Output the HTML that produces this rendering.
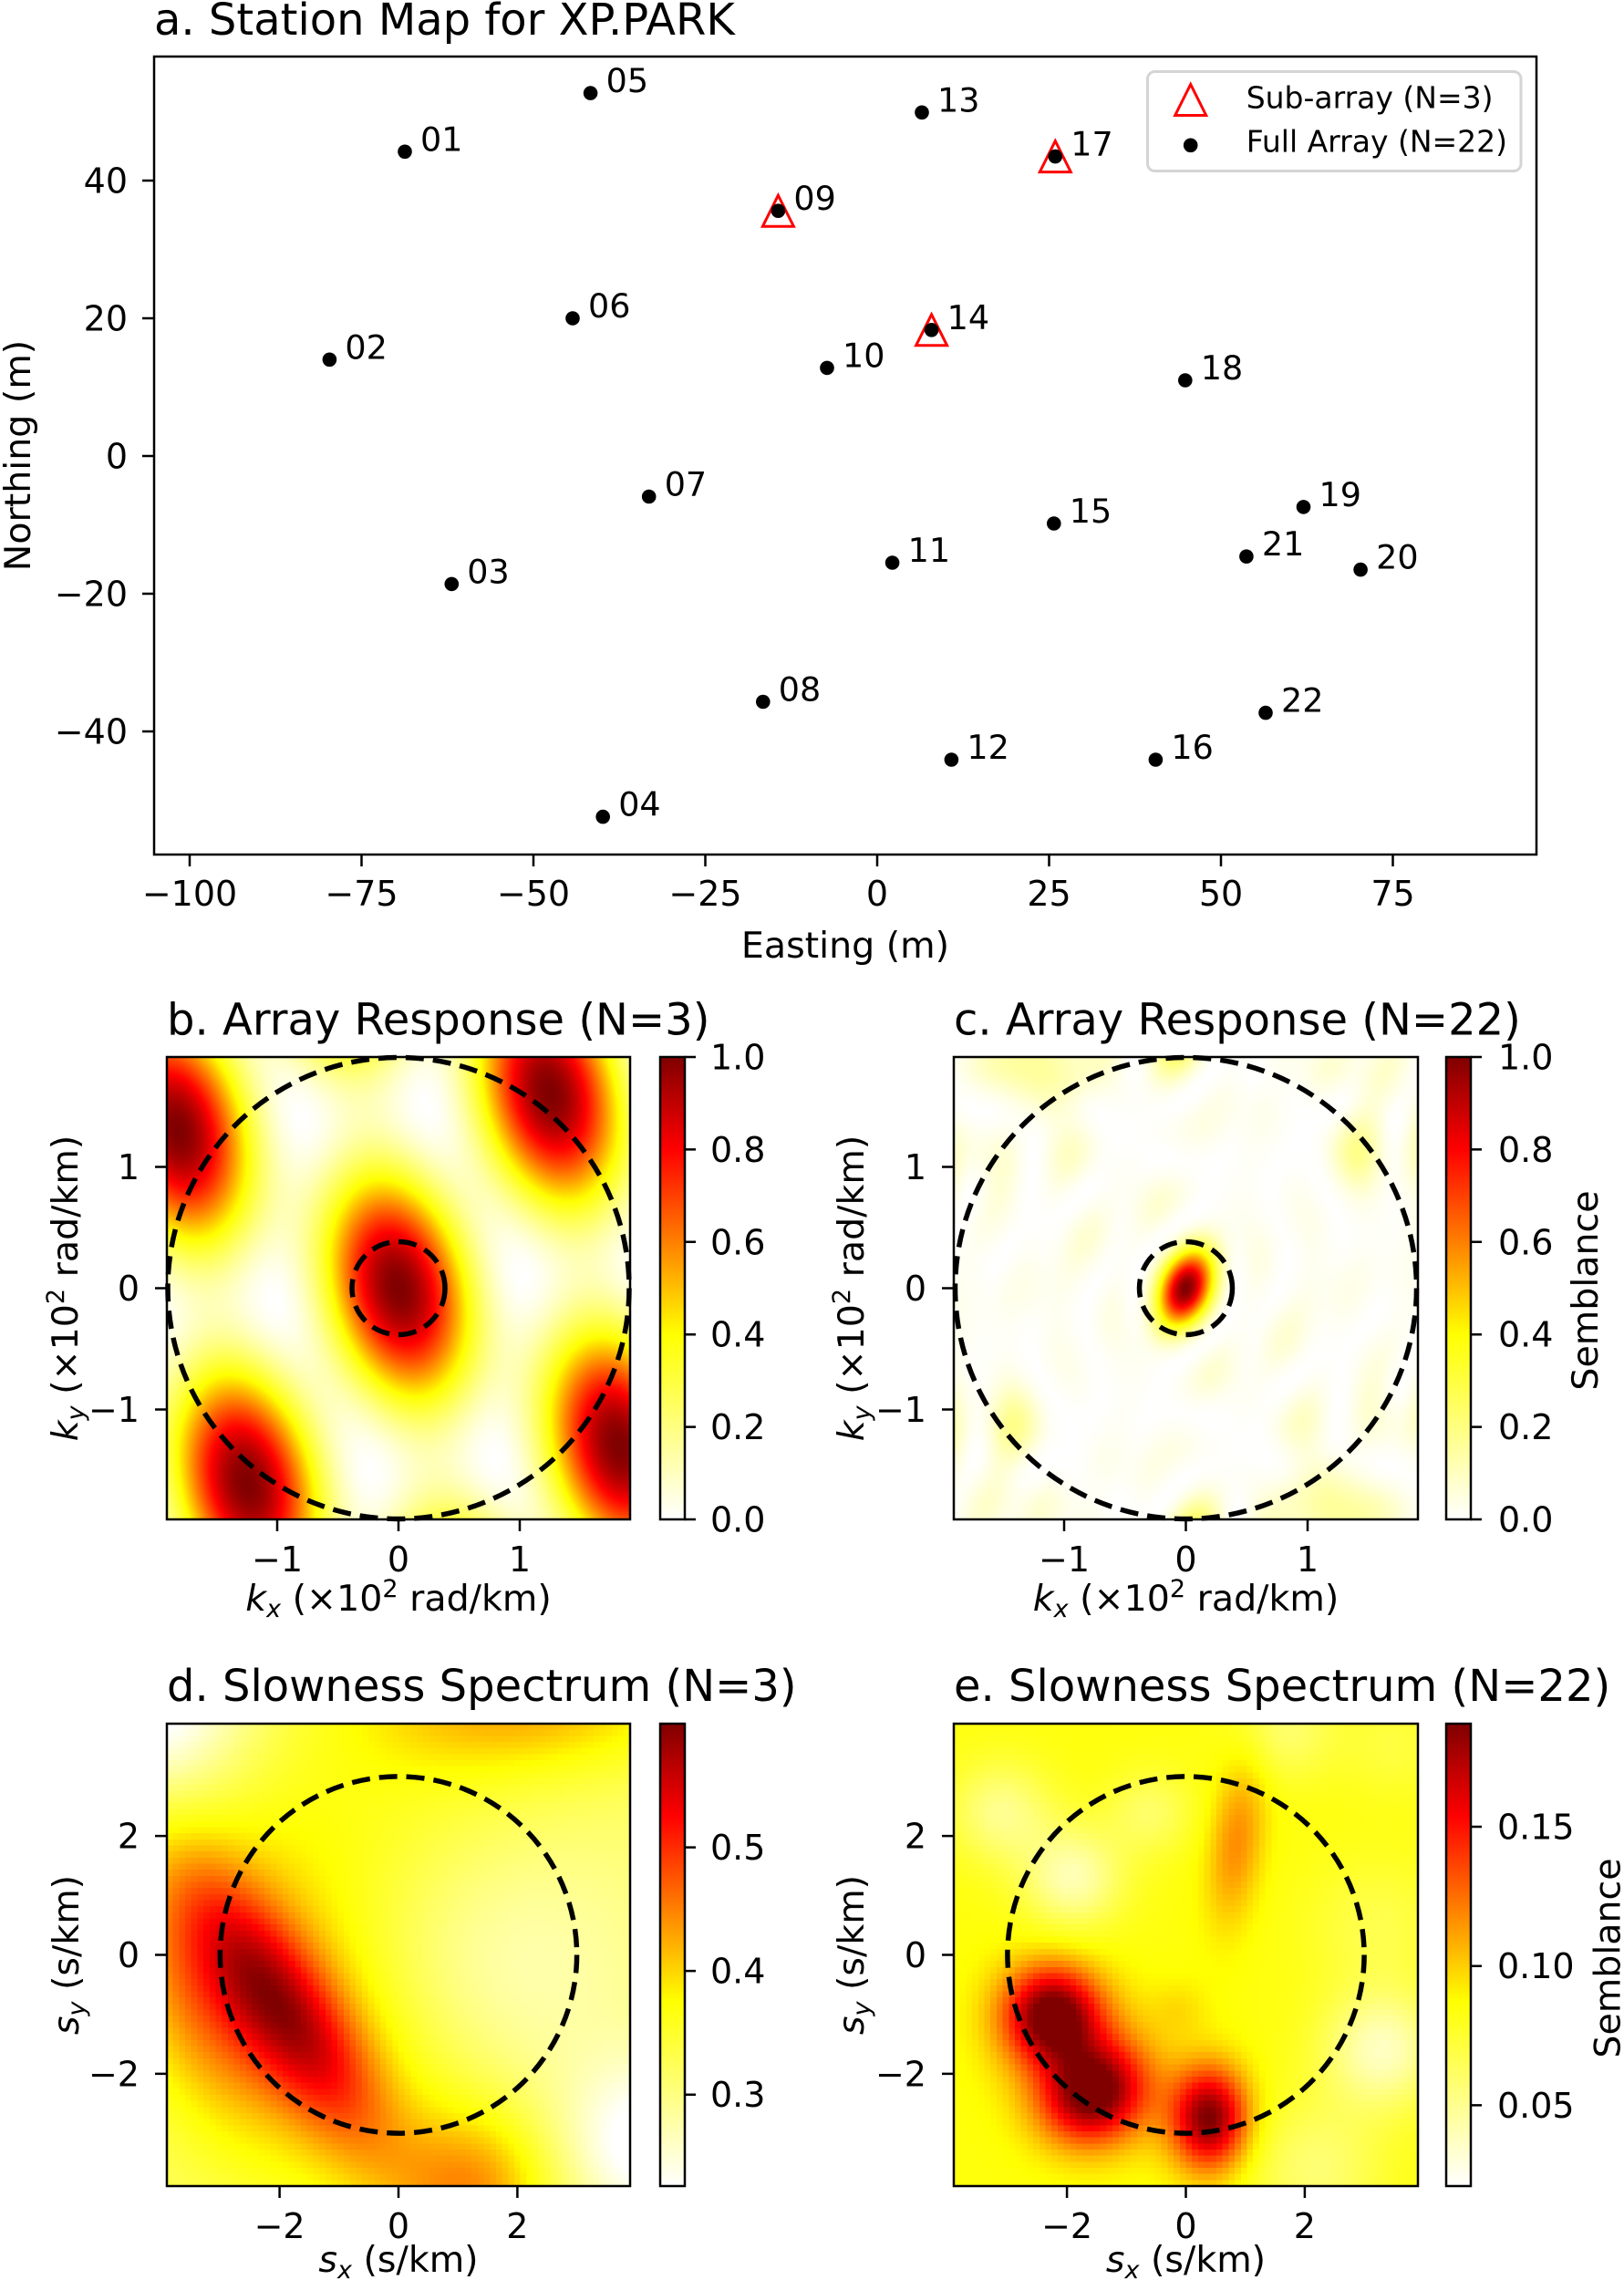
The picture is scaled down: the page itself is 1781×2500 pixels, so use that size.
<!DOCTYPE html>
<html><head><meta charset="utf-8">
<style>
html,body{margin:0;padding:0;background:#fff;}
#wrap{position:relative;width:1781px;height:2500px;overflow:hidden;background:#fff;}
canvas{position:absolute;display:block;}
.px{image-rendering:pixelated;image-rendering:crisp-edges;}
svg{position:absolute;left:0;top:0;}
text{font-family:"DejaVu Sans","Liberation Sans",sans-serif;fill:#000;}
</style></head><body>
<div id="wrap">
<canvas id="cb" width="508" height="507" style="left:183px;top:1159px;width:508px;height:507px"></canvas>
<canvas id="cc" width="509" height="507" style="left:1046px;top:1159px;width:509px;height:507px"></canvas>
<canvas id="cd" class="px" width="76" height="76" style="left:183px;top:1890px;width:508px;height:507px"></canvas>
<canvas id="ce" class="px" width="76" height="76" style="left:1046px;top:1890px;width:509px;height:507px"></canvas>
<svg width="1781" height="2500" xmlns="http://www.w3.org/2000/svg">
<defs>
<linearGradient id="cm" x1="0" y1="1" x2="0" y2="0">
<stop offset="0" stop-color="#ffffff"/><stop offset="0.4" stop-color="#ffff00"/><stop offset="0.8" stop-color="#ff0000"/><stop offset="1" stop-color="#800000"/>
</linearGradient>
</defs>

<!-- ================= Panel a ================= -->
<text x="169" y="38" font-size="48">a. Station Map for XP.PARK</text>
<g fill="none" stroke="#ff0000" stroke-width="3">
<polygon points="853.4,214.2 836.4,248.2 870.4,248.2"/>
<polygon points="1021.6,344.8 1004.6,378.8 1038.6,378.8"/>
<polygon points="1157.3,154.6 1140.3,188.6 1174.3,188.6"/>
</g>
<g fill="#000">
<circle cx="444.0" cy="166.3" r="7.8"/>
<circle cx="361.4" cy="394.3" r="7.8"/>
<circle cx="495.3" cy="640.4" r="7.8"/>
<circle cx="661.2" cy="895.6" r="7.8"/>
<circle cx="647.6" cy="102.1" r="7.8"/>
<circle cx="628.0" cy="349.0" r="7.8"/>
<circle cx="711.7" cy="544.5" r="7.8"/>
<circle cx="836.8" cy="769.5" r="7.8"/>
<circle cx="853.4" cy="231.2" r="7.8"/>
<circle cx="907.0" cy="403.4" r="7.8"/>
<circle cx="978.6" cy="617.0" r="7.8"/>
<circle cx="1043.4" cy="833.0" r="7.8"/>
<circle cx="1011.0" cy="123.3" r="7.8"/>
<circle cx="1021.6" cy="361.8" r="7.8"/>
<circle cx="1155.8" cy="574.0" r="7.8"/>
<circle cx="1267.4" cy="833.0" r="7.8"/>
<circle cx="1157.3" cy="171.6" r="7.8"/>
<circle cx="1299.8" cy="417.0" r="7.8"/>
<circle cx="1429.5" cy="555.9" r="7.8"/>
<circle cx="1492.1" cy="624.6" r="7.8"/>
<circle cx="1366.9" cy="610.2" r="7.8"/>
<circle cx="1388.0" cy="781.6" r="7.8"/>
</g>
<g font-size="36.5">
<text x="461.0" y="165.3">01</text>
<text x="378.4" y="393.3">02</text>
<text x="512.3" y="639.4">03</text>
<text x="678.2" y="894.6">04</text>
<text x="664.6" y="101.1">05</text>
<text x="645.0" y="348.0">06</text>
<text x="728.7" y="543.5">07</text>
<text x="853.8" y="768.5">08</text>
<text x="870.4" y="230.2">09</text>
<text x="924.0" y="402.4">10</text>
<text x="995.6" y="616.0">11</text>
<text x="1060.4" y="832.0">12</text>
<text x="1028.0" y="122.3">13</text>
<text x="1038.6" y="360.8">14</text>
<text x="1172.8" y="573.0">15</text>
<text x="1284.4" y="832.0">16</text>
<text x="1174.3" y="170.6">17</text>
<text x="1316.8" y="416.0">18</text>
<text x="1446.5" y="554.9">19</text>
<text x="1509.1" y="623.6">20</text>
<text x="1383.9" y="609.2">21</text>
<text x="1405.0" y="780.6">22</text>
</g>
<!-- legend -->
<rect x="1258.5" y="78.5" width="409.5" height="109" rx="8" ry="8" fill="#fff" stroke="#d4d4d4" stroke-width="3"/>
<polygon points="1305.7,92.5 1288.7,126.5 1322.7,126.5" fill="none" stroke="#ff0000" stroke-width="3"/>
<circle cx="1305.7" cy="159.3" r="7.8" fill="#000"/>
<text x="1366.7" y="118.3" font-size="33">Sub-array (N=3)</text>
<text x="1366.7" y="166.7" font-size="33">Full Array (N=22)</text>
<!-- frame -->
<rect x="169" y="62" width="1516" height="875" fill="none" stroke="#000" stroke-width="2.5"/>
<path d="M208 937v13M396.5 937v13M585 937v13M773.5 937v13M962 937v13M1150.5 937v13M1339 937v13M1527.5 937v13M156 802h13M156 651h13M156 500h13M156 349h13M156 198h13" stroke="#000" stroke-width="2.5"/>
<g font-size="38" text-anchor="middle">
<text x="208" y="993">−100</text>
<text x="396.5" y="993">−75</text>
<text x="585" y="993">−50</text>
<text x="773.5" y="993">−25</text>
<text x="962" y="993">0</text>
<text x="1150.5" y="993">25</text>
<text x="1339" y="993">50</text>
<text x="1527.5" y="993">75</text>
</g>
<g font-size="38" text-anchor="end">
<text x="140" y="815.5">−40</text>
<text x="140" y="664.5">−20</text>
<text x="140" y="513.5">0</text>
<text x="140" y="362.5">20</text>
<text x="140" y="211.5">40</text>
</g>
<text x="927" y="1050" font-size="39.5" text-anchor="middle">Easting (m)</text>
<text x="33" y="499.5" font-size="39.5" text-anchor="middle" transform="rotate(-90 33 499.5)">Northing (m)</text>

<!-- ================= Panel b ================= -->
<text x="183" y="1134.5" font-size="48">b. Array Response (N=3)</text>
<g fill="none" stroke="#000" stroke-width="5.5" stroke-dasharray="20 10">
<circle cx="437" cy="1412.5" r="253"/>
<circle cx="437" cy="1412.5" r="51"/>
</g>
<rect x="183" y="1159" width="508" height="507" fill="none" stroke="#000" stroke-width="2.5"/>
<path d="M304 1666v13M437 1666v13M570 1666v13M170 1279.5h13M170 1412.5h13M170 1545.5h13" stroke="#000" stroke-width="2.5"/>
<g font-size="38" text-anchor="middle">
<text x="304" y="1723">−1</text><text x="437" y="1723">0</text><text x="570" y="1723">1</text>
</g>
<g font-size="38" text-anchor="end">
<text x="153" y="1293">1</text><text x="153" y="1426">0</text><text x="153" y="1559">−1</text>
</g>
<text x="437" y="1766" font-size="39.5" text-anchor="middle"><tspan font-style="italic">k</tspan><tspan font-style="italic" font-size="27" dy="7">x</tspan><tspan dy="-7"> (×10</tspan><tspan font-size="27" dy="-15">2</tspan><tspan dy="15"> rad/km)</tspan></text>
<text x="85" y="1412.5" font-size="39.5" text-anchor="middle" transform="rotate(-90 85 1412.5)"><tspan font-style="italic">k</tspan><tspan font-style="italic" font-size="27" dy="7">y</tspan><tspan dy="-7"> (×10</tspan><tspan font-size="27" dy="-15">2</tspan><tspan dy="15"> rad/km)</tspan></text>
<!-- colorbar b -->
<rect x="724" y="1159" width="27" height="507" fill="url(#cm)" stroke="#000" stroke-width="2.5"/>
<path d="M751 1666h12M751 1564.6h12M751 1463.2h12M751 1361.8h12M751 1260.4h12M751 1159h12" stroke="#000" stroke-width="2.5"/>
<g font-size="38">
<text x="779" y="1679.5">0.0</text><text x="779" y="1578.1">0.2</text><text x="779" y="1476.7">0.4</text><text x="779" y="1375.3">0.6</text><text x="779" y="1273.9">0.8</text><text x="779" y="1172.5">1.0</text>
</g>

<!-- ================= Panel c ================= -->
<text x="1046" y="1134.5" font-size="48">c. Array Response (N=22)</text>
<g fill="none" stroke="#000" stroke-width="5.5" stroke-dasharray="20 10">
<circle cx="1300.5" cy="1412.5" r="253"/>
<circle cx="1300.5" cy="1412.5" r="51"/>
</g>
<rect x="1046" y="1159" width="509" height="507" fill="none" stroke="#000" stroke-width="2.5"/>
<path d="M1167 1666v13M1300.5 1666v13M1434 1666v13M1033 1279.5h13M1033 1412.5h13M1033 1545.5h13" stroke="#000" stroke-width="2.5"/>
<g font-size="38" text-anchor="middle">
<text x="1167" y="1723">−1</text><text x="1300.5" y="1723">0</text><text x="1434" y="1723">1</text>
</g>
<g font-size="38" text-anchor="end">
<text x="1016" y="1293">1</text><text x="1016" y="1426">0</text><text x="1016" y="1559">−1</text>
</g>
<text x="1300.5" y="1766" font-size="39.5" text-anchor="middle"><tspan font-style="italic">k</tspan><tspan font-style="italic" font-size="27" dy="7">x</tspan><tspan dy="-7"> (×10</tspan><tspan font-size="27" dy="-15">2</tspan><tspan dy="15"> rad/km)</tspan></text>
<text x="947" y="1412.5" font-size="39.5" text-anchor="middle" transform="rotate(-90 947 1412.5)"><tspan font-style="italic">k</tspan><tspan font-style="italic" font-size="27" dy="7">y</tspan><tspan dy="-7"> (×10</tspan><tspan font-size="27" dy="-15">2</tspan><tspan dy="15"> rad/km)</tspan></text>
<rect x="1586" y="1159" width="27" height="507" fill="url(#cm)" stroke="#000" stroke-width="2.5"/>
<path d="M1613 1666h12M1613 1564.6h12M1613 1463.2h12M1613 1361.8h12M1613 1260.4h12M1613 1159h12" stroke="#000" stroke-width="2.5"/>
<g font-size="38">
<text x="1643" y="1679.5">0.0</text><text x="1643" y="1578.1">0.2</text><text x="1643" y="1476.7">0.4</text><text x="1643" y="1375.3">0.6</text><text x="1643" y="1273.9">0.8</text><text x="1643" y="1172.5">1.0</text>
</g>
<text x="1752" y="1415" font-size="39.5" text-anchor="middle" transform="rotate(-90 1752 1415)">Semblance</text>

<!-- ================= Panel d ================= -->
<text x="183" y="1865" font-size="48">d. Slowness Spectrum (N=3)</text>
<circle cx="437" cy="2143.5" r="195.6" fill="none" stroke="#000" stroke-width="5.5" stroke-dasharray="20 10"/>
<rect x="183" y="1890" width="508" height="507" fill="none" stroke="#000" stroke-width="2.5"/>
<path d="M306.6 2397v13M437 2397v13M567.4 2397v13M170 2013.1h13M170 2143.5h13M170 2273.9h13" stroke="#000" stroke-width="2.5"/>
<g font-size="38" text-anchor="middle">
<text x="306.6" y="2454">−2</text><text x="437" y="2454">0</text><text x="567.4" y="2454">2</text>
</g>
<g font-size="38" text-anchor="end">
<text x="153" y="2026.6">2</text><text x="153" y="2157">0</text><text x="153" y="2287.4">−2</text>
</g>
<text x="437" y="2491" font-size="39.5" text-anchor="middle"><tspan font-style="italic">s</tspan><tspan font-style="italic" font-size="27" dy="7">x</tspan><tspan dy="-7"> (s/km)</tspan></text>
<text x="86" y="2143.5" font-size="39.5" text-anchor="middle" transform="rotate(-90 86 2143.5)"><tspan font-style="italic">s</tspan><tspan font-style="italic" font-size="27" dy="7">y</tspan><tspan dy="-7"> (s/km)</tspan></text>
<rect x="724" y="1890" width="27" height="507" fill="url(#cm)" stroke="#000" stroke-width="2.5"/>
<path d="M751 2296.7h12M751 2161.1h12M751 2025.6h12" stroke="#000" stroke-width="2.5"/>
<g font-size="38">
<text x="779" y="2310.2">0.3</text><text x="779" y="2174.6">0.4</text><text x="779" y="2039.1">0.5</text>
</g>

<!-- ================= Panel e ================= -->
<text x="1046" y="1865" font-size="48">e. Slowness Spectrum (N=22)</text>
<circle cx="1300.5" cy="2143.5" r="195.6" fill="none" stroke="#000" stroke-width="5.5" stroke-dasharray="20 10"/>
<rect x="1046" y="1890" width="509" height="507" fill="none" stroke="#000" stroke-width="2.5"/>
<path d="M1170.1 2397v13M1300.5 2397v13M1430.9 2397v13M1033 2013.1h13M1033 2143.5h13M1033 2273.9h13" stroke="#000" stroke-width="2.5"/>
<g font-size="38" text-anchor="middle">
<text x="1170.1" y="2454">−2</text><text x="1300.5" y="2454">0</text><text x="1430.9" y="2454">2</text>
</g>
<g font-size="38" text-anchor="end">
<text x="1016" y="2026.6">2</text><text x="1016" y="2157">0</text><text x="1016" y="2287.4">−2</text>
</g>
<text x="1300.5" y="2491" font-size="39.5" text-anchor="middle"><tspan font-style="italic">s</tspan><tspan font-style="italic" font-size="27" dy="7">x</tspan><tspan dy="-7"> (s/km)</tspan></text>
<text x="947" y="2143.5" font-size="39.5" text-anchor="middle" transform="rotate(-90 947 2143.5)"><tspan font-style="italic">s</tspan><tspan font-style="italic" font-size="27" dy="7">y</tspan><tspan dy="-7"> (s/km)</tspan></text>
<rect x="1586" y="1890" width="27" height="507" fill="url(#cm)" stroke="#000" stroke-width="2.5"/>
<path d="M1613 2308.4h12M1613 2155.7h12M1613 2003h12" stroke="#000" stroke-width="2.5"/>
<g font-size="38">
<text x="1642" y="2321.9">0.05</text><text x="1642" y="2169.2">0.10</text><text x="1642" y="2016.5">0.15</text>
</g>
<text x="1776.5" y="2147" font-size="39.5" text-anchor="middle" transform="rotate(-90 1776.5 2147)">Semblance</text>
</svg>
</div>
<script>
(function(){
function cm(t){if(!(t>0))t=0;if(t>1)t=1;var r,g,b,u;
if(t<0.4){u=t/0.4;r=255;g=255;b=255*(1-u);}
else if(t<0.8){u=(t-0.4)/0.4;r=255;g=255*(1-u);b=0;}
else{u=(t-0.8)/0.2;r=255-127*u;g=0;b=0;}
return [r,g,b];}
function fill(id,f,xr,yr){var c=document.getElementById(id);if(!c||!c.getContext)return;var W=c.width,H=c.height,ctx=c.getContext('2d'),im=ctx.createImageData(W,H),d=im.data;
for(var j=0;j<H;j++){var y=yr-(j+0.5)/H*2*yr;for(var i=0;i<W;i++){var x=-xr+(i+0.5)/W*2*xr;var col=cm(f(x,y));var o=(j*W+i)*4;d[o]=col[0];d[o+1]=col[1];d[o+2]=col[2];d[o+3]=255;}}
ctx.putImageData(im,0,0);}
var S22=[[-68.7,44.2],[-79.6,14.0],[-61.9,-18.6],[-39.9,-52.4],[-41.7,52.7],[-44.3,20.0],[-33.2,-5.9],[-16.6,-35.7],[-14.4,35.6],[-7.3,12.8],[2.2,-15.5],[10.8,-44.1],[6.5,49.9],[7.9,18.3],[25.7,-9.8],[40.5,-44.1],[25.9,43.5],[44.8,11.0],[62.0,-7.4],[70.3,-16.5],[53.7,-14.6],[56.5,-37.3]];
var S3=[[-14.4,35.6],[7.9,18.3],[25.9,43.5]];
function resp(st){var N=st.length;return function(kx,ky){var re=0,im=0;for(var n=0;n<N;n++){var p=0.1*(kx*st[n][0]+ky*st[n][1]);re+=Math.cos(p);im+=Math.sin(p);}return (re*re+im*im)/(N*N);};}
function G(x,y,cx,cy,sl,ss,a,amp){var dx=x-cx,dy=y-cy,c=Math.cos(a),s=Math.sin(a),u=dx*c+dy*s,v=-dx*s+dy*c;return amp*Math.exp(-u*u/(2*sl*sl)-v*v/(2*ss*ss));}
function fd(x,y){var a=-0.988;return 0.24
 +G(x,y,-1.95,-0.9,1.8,0.62,a,0.46)
 +G(x,y,-1.6,-1.0,3.0,1.6,a,0.27)
 +G(x,y,-3.4,-0.8,1.6,0.8,-1.2,0.2)
 +G(x,y,0.3,2.6,2,1.6,0,0.12)
 +G(x,y,2.2,4.2,2.0,0.8,0,0.26)
 +G(x,y,1.3,-3.9,0.9,0.9,0,0.26)
 -G(x,y,1.6,0.0,1.9,1.9,0,0.15)
 -G(x,y,-4.2,4.2,1.2,1.2,0,0.34)
 -G(x,y,4.2,-3.2,1.0,1.0,0,0.28);}
function fe(x,y){return 0.38
 +G(x,y,-2.25,-1.0,0.55,0.55,0,0.58)
 +G(x,y,-1.55,-2.35,0.62,0.55,0.5,0.55)
 +G(x,y,0.4,-2.75,0.6,0.45,1.57,0.62)
 +G(x,y,-1.8,-1.7,1.05,0.8,-0.8,0.2)
 +G(x,y,0.85,1.9,1.0,0.33,1.45,0.2)
 +G(x,y,-0.1,-0.9,0.35,0.35,0,0.06)
 -G(x,y,-1.9,1.3,0.6,0.6,0,0.26)
 -G(x,y,-3.1,2.4,0.6,0.6,0,0.2)
 -G(x,y,-0.6,2.4,0.5,0.5,0,0.14)
 -G(x,y,1.7,3.8,0.6,0.6,0,0.15)
 -G(x,y,3.3,-1.6,0.7,0.7,0,0.28)
 -G(x,y,2.2,-3.6,0.8,0.8,0,0.16)
 -G(x,y,3.2,0.5,0.8,0.8,0,0.1)
 -G(x,y,3.5,3.5,0.6,0.6,0,0.08);}
fill('cb',resp(S3),1.903,1.899);
fill('cc',resp(S22),1.905,1.899);
fill('cd',fd,3.896,3.888);
fill('ce',fe,3.9,3.888);
})();
</script>
</body></html>
